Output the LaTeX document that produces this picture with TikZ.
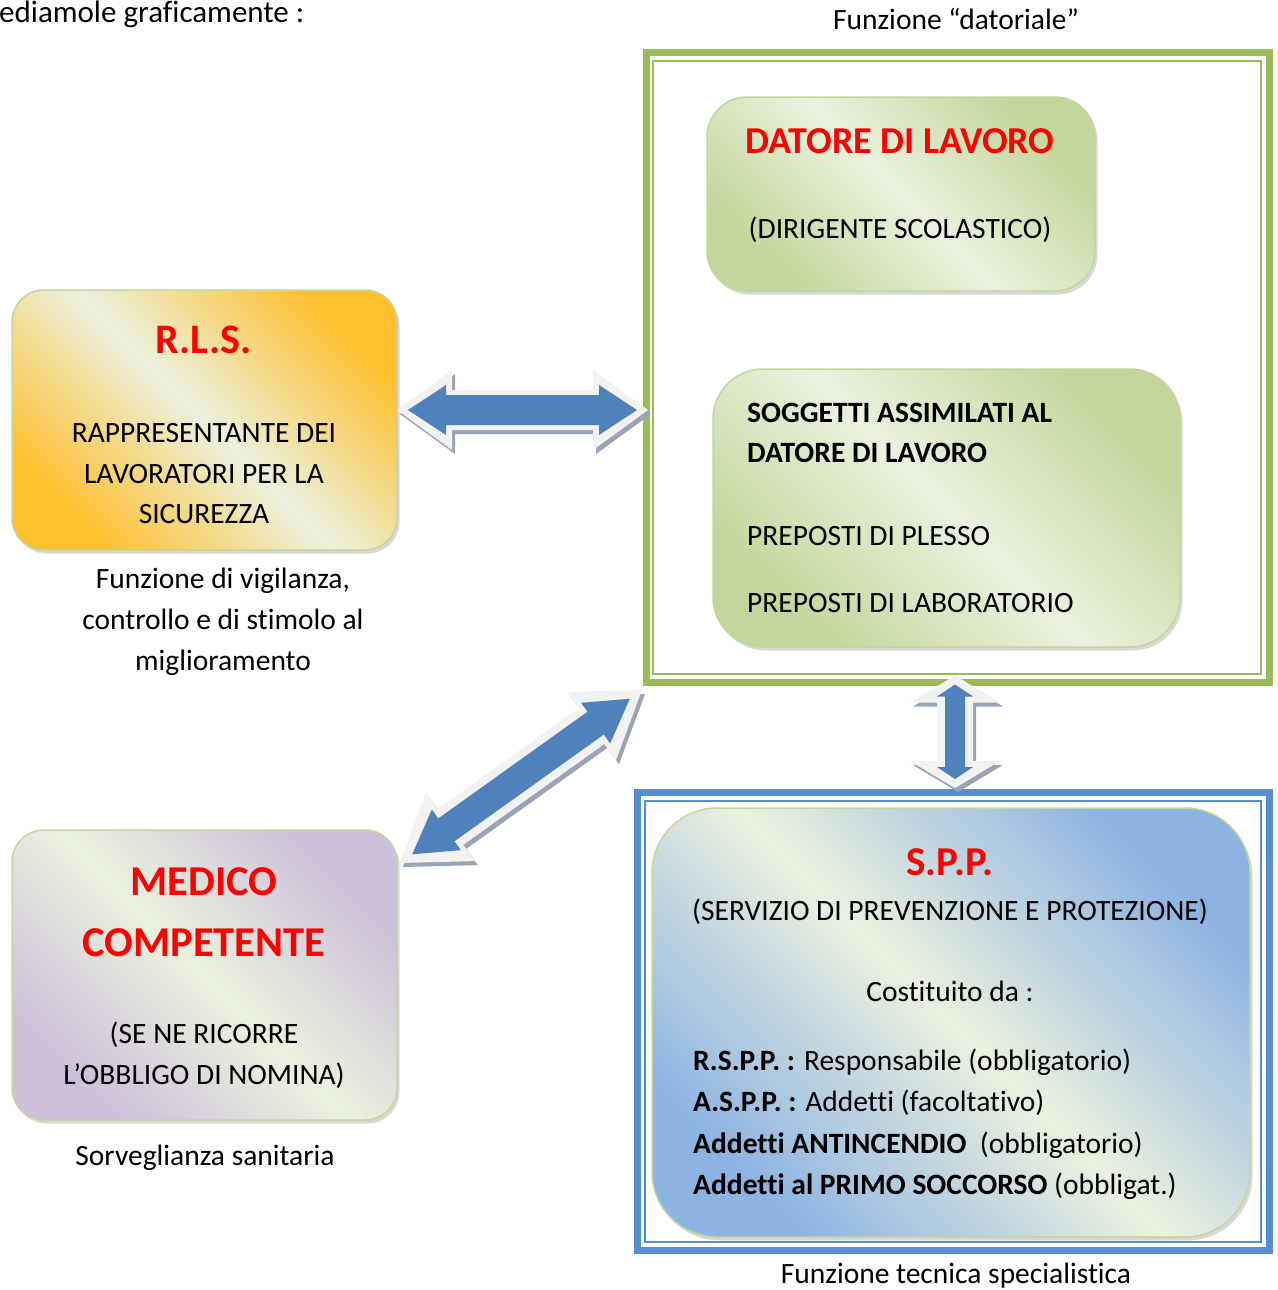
\documentclass[tikz,border=0pt]{standalone}
\usepackage{fontspec}
\setmainfont{Carlito}[Ligatures=NoCommon]
\usetikzlibrary{calc,shadows,decorations.markings}

\definecolor{lite}{HTML}{EBF1DE}
\definecolor{grn}{HTML}{C3D69B}
\definecolor{orng}{HTML}{FFC02E}
\definecolor{purp}{HTML}{CCC0DA}
\definecolor{blu}{HTML}{8DB3E2}
\definecolor{framegrn}{HTML}{9BBB59}
\definecolor{frameblu}{HTML}{558ED5}
\definecolor{arrblu}{HTML}{4F81BD}
\definecolor{arrlite}{HTML}{F2F2F2}
\definecolor{arrshad}{HTML}{9AA4B6}

\tikzset{
arrowpoly/.style n args={5}{decorate, decoration={markings, mark=at position 0.01pt with {%
  \pgfmathsetmacro{\arrlen}{\pgfdecoratedpathlength}%
  \fill[#5] (#1pt,0pt) -- (#1pt+#2pt,#3pt) -- (#1pt+#2pt,#4pt) -- (\arrlen pt-#1pt-#2pt,#4pt)
    -- (\arrlen pt-#1pt-#2pt,#3pt) -- (\arrlen pt-#1pt,0pt) -- (\arrlen pt-#1pt-#2pt,-#3pt)
    -- (\arrlen pt-#1pt-#2pt,-#4pt) -- (#1pt+#2pt,-#4pt) -- (#1pt+#2pt,-#3pt) -- cycle;}}}
}

\begin{document}
\begin{tikzpicture}[x=1pt, y=-1pt,
txt/.style={anchor=base, inner sep=0pt, font=\fontsize{29.5}{35}\selectfont},
txtl/.style={txt, anchor=base west},
txtb/.style={txtl, font=\fontsize{29.5}{35}\selectfont\bfseries},
ttl/.style={anchor=base, inner sep=0pt, text=red, font=\fontsize{38}{44}\selectfont\bfseries},
box/.style={rectangle, rounded corners=#1pt, draw=grn, line width=1.5pt, inner sep=0pt, outer sep=0pt, drop shadow={shadow xshift=2.5pt, shadow yshift=-3.5pt, fill=black!30}},
tint/.style={top color=#1, bottom color=#1, middle color=lite, shading angle=-45},
frame/.style={rectangle, line width=7pt, inner sep=0pt, outer sep=0pt, draw=#1},
thin/.style={line width=2.5pt, draw=#1},
]
\useasboundingbox (0,0) rectangle (1277,1290);

% cornici e riquadri
\node[frame=framegrn, minimum width=623pt, minimum height=629.5pt] (fdat) at (958,367.75) {};
\draw[thin=framegrn] ($(fdat.north west)+(6.5,8)$) rectangle ($(fdat.south east)+(-8.5,-8.5)$);
\node[frame=frameblu, minimum width=632.5pt, minimum height=458.5pt] (fspp) at (953.25,1021.25) {};
\draw[thin=frameblu] ($(fspp.north west)+(8,9)$) rectangle ($(fspp.south east)+(-8.5,-8.5)$);

\node[box=40, tint=grn, minimum width=388pt, minimum height=194pt] (dat) at (901,194) {};
\node[box=50, tint=grn, minimum width=467pt, minimum height=278pt] (sogg) at (946.5,508) {};
\node[box=32, tint=orng, minimum width=385pt, minimum height=260pt] (rls) at (204.5,420) {};
\node[box=32, tint=purp, minimum width=385pt, minimum height=290pt] (med) at (204.5,975) {};
\node[box=65, tint=blu, minimum width=598pt, minimum height=429pt] (spp) at (951,1022.5) {};

% testi
\node[txtl, font=\fontsize{31}{36}\selectfont] (intro) at (-1,23) {ediamole graficamente :};
\node[txt] (fdatlbl) at (956,30) {Funzione “datoriale”};
\node[ttl] (dattitle) at (900,153) {DATORE DI LAVORO};
\node[txt] (datsub) at (900,238) {(DIRIGENTE SCOLASTICO)};
\node[txtb] (sogg1) at (747,422) {SOGGETTI ASSIMILATI AL};
\node[txtb] (sogg2) at (747,462) {DATORE DI LAVORO};
\node[txtl] (sogg3) at (747,545) {PREPOSTI DI PLESSO};
\node[txtl] (sogg4) at (747,612) {PREPOSTI DI LABORATORIO};

\node[ttl, font=\fontsize{42}{48}\selectfont\bfseries] (rlstitle) at (204,353) {R.L.S.};
\node[txt] (rls1) at (204,442) {RAPPRESENTANTE DEI};
\node[txt] (rls2) at (204,483) {LAVORATORI PER LA};
\node[txt] (rls3) at (204,523) {SICUREZZA};
\node[txt] (rlslbl1) at (223,588) {Funzione di vigilanza,};
\node[txt] (rlslbl2) at (223,629) {controllo e di stimolo al};
\node[txt] (rlslbl3) at (223,670) {miglioramento};

\node[ttl, font=\fontsize{42.5}{48}\selectfont\bfseries] (medtitle1) at (204,895) {MEDICO};
\node[ttl, font=\fontsize{42.5}{48}\selectfont\bfseries] (medtitle2) at (204,956) {COMPETENTE};
\node[txt] (med1) at (204,1043) {(SE NE RICORRE};
\node[txt] (med2) at (204,1084) {L’OBBLIGO DI NOMINA)};
\node[txt] (medlbl) at (205,1165) {Sorveglianza sanitaria};

\node[ttl, font=\fontsize{41}{47}\selectfont\bfseries] (spptitle) at (950,875) {S.P.P.};
\node[txt] (spp1) at (950,920) {(SERVIZIO DI PREVENZIONE E PROTEZIONE)};
\node[txt] (spp2) at (950,1001) {Costituito da :};
\node[txtl] (spp3) at (693,1070) {\textbf{R.S.P.P. :} Responsabile (obbligatorio)};
\node[txtl] (spp4) at (693,1111) {\textbf{A.S.P.P. :} Addetti (facoltativo)};
\node[txtl] (spp5) at (693,1153) {\textbf{Addetti ANTINCENDIO}\ \ (obbligatorio)};
\node[txtl] (spp6) at (693,1194) {\textbf{Addetti al PRIMO SOCCORSO} (obbligat.)};
\node[txt] (sppl) at (956,1283) {Funzione tecnica specialistica};

% frecce doppie
\coordinate (h1) at ($(rls.east)+(0,-10)$);
\coordinate (h2) at ($(fdat.west |- rls.east)+(1.5,-10)$);
\coordinate (v1) at ($(fdat.south)+(-3,-7)$);
\coordinate (v2) at ($(fspp.north)+(1.75,-4)$);
\coordinate (d1) at ($(med.north east)+(3,33)$);
\coordinate (d2) at ($(fdat.south west)+(-4.5,7.5)$);

\path[arrowpoly={0}{55}{40}{20}{arrshad}] ($(h1)+(3,4)$) -- ($(h2)+(3,4)$);
\path[arrowpoly={0}{55}{40}{20}{arrlite}] (h1) -- (h2);
\path[arrowpoly={11}{38}{25}{15}{arrblu}] (h1) -- (h2);

\path[arrowpoly={0}{27}{45}{18}{arrshad}] ($(v1)+(3,4)$) -- ($(v2)+(3,4)$);
\path[arrowpoly={0}{27}{45}{18}{arrlite}] (v1) -- (v2);
\path[arrowpoly={9}{12}{18}{10}{arrblu}] (v1) -- (v2);

\path[arrowpoly={0}{62}{42}{22}{arrshad}] ($(d1)+(3,4)$) -- ($(d2)+(3,4)$);
\path[arrowpoly={0}{62}{42}{22}{arrlite}] (d1) -- (d2);
\path[arrowpoly={15}{42}{25}{14}{arrblu}] (d1) -- (d2);
\end{tikzpicture}
\end{document}
